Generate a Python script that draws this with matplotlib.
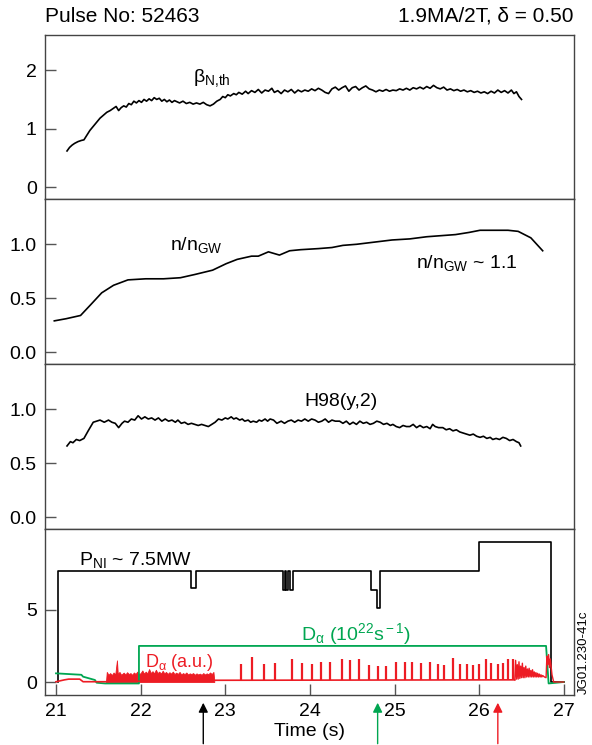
import matplotlib
matplotlib.use("Agg")
import matplotlib.pyplot as plt

plt.rcParams['font.family'] = ['Liberation Sans', 'DejaVu Sans']
plt.rcParams['mathtext.fontset'] = 'custom'
plt.rcParams['mathtext.rm'] = 'Liberation Sans'
plt.rcParams['mathtext.it'] = 'Liberation Sans:italic'

# beta_N,th (panel 1)
beta_t = [21.13, 21.16, 21.19, 21.22, 21.26, 21.30, 21.33, 21.37, 21.40, 21.44, 21.48, 21.52, 21.56, 21.60,
          21.64, 21.68, 21.71, 21.74, 21.77, 21.80, 21.83, 21.86, 21.89, 21.92, 21.95, 21.98, 22.01, 22.04,
          22.07, 22.10, 22.13, 22.16, 22.19, 22.22, 22.25, 22.28, 22.31, 22.34, 22.37, 22.40, 22.43, 22.46,
          22.50, 22.54, 22.58, 22.62, 22.66, 22.70, 22.74, 22.78, 22.82, 22.86, 22.90, 22.94, 22.97, 23.00,
          23.03, 23.06, 23.10, 23.13, 23.16, 23.20, 23.24, 23.27, 23.31, 23.35, 23.39, 23.43, 23.47, 23.51,
          23.55, 23.58, 23.62, 23.66, 23.70, 23.74, 23.78, 23.82, 23.86, 23.90, 23.94, 23.98, 24.02, 24.06,
          24.10, 24.14, 24.18, 24.22, 24.26, 24.30, 24.34, 24.38, 24.42, 24.46, 24.50, 24.54, 24.58, 24.62,
          24.66, 24.70, 24.74, 24.78, 24.82, 24.86, 24.90, 24.94, 24.98, 25.02, 25.06, 25.10, 25.14, 25.18,
          25.22, 25.26, 25.30, 25.34, 25.38, 25.42, 25.46, 25.50, 25.54, 25.58, 25.62, 25.66, 25.70, 25.74,
          25.78, 25.82, 25.86, 25.90, 25.94, 25.98, 26.02, 26.06, 26.10, 26.14, 26.18, 26.22, 26.26, 26.30,
          26.34, 26.38, 26.41, 26.44, 26.47, 26.50]
beta_v = [0.62, 0.68, 0.72, 0.75, 0.78, 0.80, 0.81, 0.90, 0.97, 1.04, 1.11, 1.18, 1.23, 1.28,
          1.31, 1.35, 1.38, 1.31, 1.36, 1.39, 1.37, 1.43, 1.41, 1.47, 1.44, 1.48, 1.45, 1.50,
          1.47, 1.51, 1.48, 1.53, 1.50, 1.52, 1.47, 1.50, 1.46, 1.49, 1.45, 1.48, 1.46, 1.44,
          1.47, 1.43, 1.45, 1.42, 1.44, 1.42, 1.45, 1.41, 1.39, 1.42, 1.47, 1.50, 1.55, 1.53,
          1.58, 1.56, 1.60, 1.58, 1.62, 1.59, 1.64, 1.60, 1.65, 1.62, 1.67, 1.61, 1.66, 1.64,
          1.69, 1.62, 1.65, 1.60, 1.66, 1.63, 1.67, 1.61, 1.66, 1.63, 1.66, 1.64, 1.68, 1.65,
          1.69, 1.66, 1.62, 1.60, 1.68, 1.71, 1.66, 1.70, 1.73, 1.64, 1.70, 1.72, 1.66, 1.70,
          1.73, 1.68, 1.66, 1.63, 1.66, 1.64, 1.67, 1.64, 1.66, 1.65, 1.68, 1.66, 1.69, 1.66,
          1.70, 1.68, 1.71, 1.68, 1.72, 1.69, 1.74, 1.70, 1.68, 1.71, 1.66, 1.68, 1.65, 1.67,
          1.64, 1.66, 1.63, 1.65, 1.62, 1.64, 1.61, 1.63, 1.60, 1.64, 1.61, 1.66, 1.62, 1.65,
          1.61, 1.66, 1.60, 1.63, 1.55, 1.50]

# n/nGW (panel 2)
ngw_t = [20.98, 21.12, 21.29, 21.41, 21.54, 21.68, 21.85, 22.06, 22.27, 22.47, 22.64, 22.85, 23.01, 23.14,
         23.31, 23.39, 23.51, 23.64, 23.76, 23.89, 24.10, 24.26, 24.39, 24.55, 24.76, 24.97, 25.18, 25.38,
         25.55, 25.72, 25.88, 26.01, 26.17, 26.34, 26.46, 26.61, 26.75]
ngw_v = [0.29, 0.31, 0.34, 0.44, 0.55, 0.62, 0.67, 0.68, 0.68, 0.69, 0.72, 0.76, 0.82, 0.86,
         0.89, 0.89, 0.93, 0.90, 0.94, 0.95, 0.96, 0.97, 0.99, 1.00, 1.02, 1.04, 1.05, 1.07,
         1.08, 1.09, 1.11, 1.13, 1.13, 1.13, 1.12, 1.06, 0.94]

# H98(y,2) (panel 3)
h98_t = [21.13, 21.17, 21.20, 21.24, 21.28, 21.33, 21.38, 21.44, 21.48, 21.52, 21.57, 21.62, 21.66, 21.70,
         21.74, 21.78, 21.81, 21.85, 21.89, 21.93, 21.97, 22.01, 22.05, 22.09, 22.13, 22.17, 22.21, 22.25,
         22.29, 22.33, 22.37, 22.41, 22.44, 22.48, 22.52, 22.56, 22.60, 22.64, 22.68, 22.72, 22.76, 22.80,
         22.84, 22.88, 22.92, 22.96, 23.00, 23.03, 23.07, 23.10, 23.13, 23.17, 23.20, 23.23, 23.27, 23.30,
         23.33, 23.37, 23.40, 23.43, 23.47, 23.50, 23.53, 23.57, 23.61, 23.66, 23.70, 23.74, 23.78, 23.82,
         23.86, 23.90, 23.94, 23.98, 24.02, 24.06, 24.10, 24.14, 24.18, 24.22, 24.26, 24.30, 24.35, 24.39,
         24.43, 24.47, 24.51, 24.55, 24.59, 24.63, 24.67, 24.71, 24.75, 24.79, 24.83, 24.87, 24.91, 24.95,
         24.98, 25.02, 25.06, 25.10, 25.14, 25.18, 25.22, 25.26, 25.30, 25.34, 25.38, 25.42, 25.45, 25.48,
         25.52, 25.57, 25.61, 25.65, 25.69, 25.73, 25.77, 25.81, 25.85, 25.89, 25.93, 25.97, 26.01, 26.05,
         26.09, 26.13, 26.16, 26.20, 26.24, 26.28, 26.32, 26.36, 26.40, 26.44, 26.47, 26.49]
h98_v = [0.66, 0.70, 0.69, 0.72, 0.71, 0.73, 0.80, 0.88, 0.89, 0.90, 0.88, 0.90, 0.88, 0.87,
         0.83, 0.87, 0.89, 0.88, 0.91, 0.90, 0.94, 0.91, 0.93, 0.91, 0.92, 0.90, 0.92, 0.89,
         0.91, 0.89, 0.90, 0.88, 0.90, 0.87, 0.88, 0.86, 0.87, 0.86, 0.85, 0.86, 0.85, 0.84,
         0.86, 0.88, 0.91, 0.90, 0.92, 0.91, 0.93, 0.91, 0.92, 0.90, 0.91, 0.89, 0.90, 0.88,
         0.89, 0.88, 0.90, 0.89, 0.91, 0.89, 0.91, 0.90, 0.87, 0.89, 0.87, 0.89, 0.90, 0.88,
         0.90, 0.89, 0.91, 0.89, 0.91, 0.90, 0.88, 0.89, 0.91, 0.88, 0.90, 0.89, 0.89, 0.87,
         0.89, 0.86, 0.88, 0.86, 0.89, 0.87, 0.88, 0.86, 0.87, 0.89, 0.88, 0.86, 0.87, 0.85,
         0.86, 0.84, 0.83, 0.85, 0.84, 0.84, 0.86, 0.83, 0.85, 0.83, 0.84, 0.82, 0.86, 0.84,
         0.83, 0.83, 0.81, 0.82, 0.80, 0.81, 0.79, 0.78, 0.77, 0.76, 0.77, 0.75, 0.74, 0.75,
         0.73, 0.74, 0.72, 0.73, 0.72, 0.74, 0.73, 0.71, 0.72, 0.70, 0.69, 0.66]

# P_NI (MW), step trace
pni_t = [21.02, 21.02, 22.60, 22.60, 22.65, 22.65, 23.68, 23.68, 23.70, 23.70, 23.72, 23.72, 23.74, 23.74,
         23.76, 23.76, 23.80, 23.80, 24.72, 24.72, 24.77, 24.77, 24.79, 24.79, 24.83, 24.83, 26.00, 26.00,
         26.85, 26.85, 27.00]
pni_v = [0.0, 7.7, 7.7, 6.5, 6.5, 7.7, 7.7, 6.4, 6.4, 7.7, 7.7, 6.4, 6.4, 7.7,
         7.7, 6.4, 6.4, 7.7, 7.7, 6.4, 6.4, 6.4, 6.4, 5.1, 5.1, 7.7, 7.7, 9.67,
         9.67, 0.0, 0.0]

# D_alpha (10^22 s^-1), green
dag_t = [21.00, 21.30, 21.32, 21.46, 21.48, 21.58, 21.98, 21.98, 26.79, 26.82, 27.00]
dag_v = [0.60, 0.50, 0.37, 0.14, -0.05, -0.10, -0.10, 2.50, 2.50, -0.10, 0.00]

# D_alpha (a.u.), red: baseline, dense L-mode region, ELMs, final dense region
dar_base_t = [21.00, 21.10, 21.15, 21.28, 21.32, 21.59, 22.87, 26.42]
dar_base_v = [0.02, 0.15, 0.20, 0.20, 0.02, 0.02, 0.12, 0.15]
dense_t = [21.59, 21.60, 21.62, 21.64, 21.66, 21.68, 21.70, 21.72, 21.73, 21.75, 21.77, 21.80, 21.82,
           21.84, 21.86, 21.88, 21.90, 21.92, 21.94, 21.96, 21.98, 22.00, 22.02, 22.04, 22.06, 22.08,
           22.10, 22.12, 22.14, 22.16, 22.18, 22.20, 22.22, 22.24, 22.26, 22.28, 22.30, 22.32, 22.34,
           22.36, 22.38, 22.40, 22.42, 22.44, 22.46, 22.48, 22.50, 22.52, 22.54, 22.56, 22.58, 22.60,
           22.62, 22.64, 22.66, 22.68, 22.70, 22.72, 22.74, 22.76, 22.78, 22.80, 22.82, 22.84, 22.86, 22.87]
dense_v = [0.00, 0.70, 0.50, 0.62, 0.48, 0.66, 0.52, 1.50, 0.55, 0.70, 0.50, 0.65, 0.52,
           0.68, 0.55, 0.62, 0.50, 0.66, 0.56, 0.72, 0.55, 0.62, 0.80, 0.58, 0.72, 0.60,
           0.90, 0.62, 0.75, 0.60, 0.85, 0.62, 0.72, 0.58, 0.78, 0.60, 0.70, 0.56, 0.68,
           0.58, 0.72, 0.55, 0.65, 0.56, 0.70, 0.52, 0.62, 0.55, 0.66, 0.52, 0.60, 0.55,
           0.62, 0.50, 0.60, 0.52, 0.58, 0.50, 0.62, 0.52, 0.60, 0.54, 0.66, 0.55, 0.70, 0.10]
elm_t = [23.18, 23.31, 23.46, 23.59, 23.79, 23.91, 24.02, 24.13, 24.24, 24.38, 24.47, 24.58, 24.70,
         24.81, 24.90, 25.02, 25.12, 25.21, 25.31, 25.42, 25.51, 25.58, 25.69, 25.77, 25.85, 25.93,
         26.00, 26.08, 26.14, 26.22, 26.28, 26.34, 26.40]
elm_h = [1.25, 1.70, 1.25, 1.30, 1.60, 1.30, 1.25, 1.40, 1.40, 1.60, 1.50, 1.60, 1.20,
         1.10, 1.10, 1.40, 1.40, 1.40, 1.30, 1.40, 1.25, 1.20, 1.65, 1.25, 1.25, 1.20,
         1.25, 1.60, 1.35, 1.25, 1.30, 1.60, 1.60]
end_t = [26.42, 26.43, 26.44, 26.45, 26.46, 26.47, 26.48, 26.49, 26.50, 26.51, 26.52, 26.53, 26.54,
         26.55, 26.56, 26.57, 26.58, 26.59, 26.60, 26.61, 26.62, 26.63, 26.64, 26.65, 26.66, 26.67,
         26.68, 26.69, 26.70, 26.71, 26.72, 26.73, 26.74, 26.75, 26.77, 26.79, 26.80, 26.81, 26.82,
         26.83, 26.84, 26.86, 26.88, 27.00]
end_v = [0.15, 1.50, 0.20, 1.20, 0.20, 1.40, 0.25, 1.10, 0.30, 1.30, 0.30, 1.00, 0.30,
         1.10, 0.35, 0.90, 0.35, 0.95, 0.35, 0.80, 0.35, 0.85, 0.35, 0.70, 0.35, 0.65,
         0.35, 0.60, 0.35, 0.55, 0.35, 0.50, 0.35, 0.45, 0.35, 0.30, 1.80, 1.20, 1.90,
         1.00, 1.60, 0.50, 0.00, 0.00]

xticks = [21, 22, 23, 24, 25, 26, 27]
arrow_t = [22.74, 24.80, 26.22]

RED = '#ed1c24'
GREEN = '#00a651'
W, H = 592, 745

fig = plt.figure(figsize=(W / 100, H / 100), dpi=100)


def make_ax(top, bottom):
    ax = fig.add_axes([45 / W, 1 - bottom / H, (574 - 45) / W, (bottom - top) / H])
    ax.set_xlim(20.87, 27.12)
    for s in ax.spines.values():
        s.set_color('#444444')
        s.set_linewidth(1.0)
    ax.tick_params(direction='in', length=8, width=1, color='#555555', labelsize=14, pad=6)
    ax.tick_params(axis='x', bottom=False, labelbottom=False)
    return ax


ax1 = make_ax(35, 199)
ax2 = make_ax(199, 364)
ax3 = make_ax(364, 529)
ax4 = make_ax(529, 695)

# panel 1
ax1.plot(beta_t, beta_v, color='black', lw=1.2)
ax1.set_ylim(-0.2, 2.6)
ax1.set_yticks([0, 1, 2])
ax1.text(22.62, 1.80, r'β$_{\rm N{,}th}$', fontsize=14)

# panel 2
ax2.plot(ngw_t, ngw_v, color='black', lw=1.2)
ax2.set_ylim(-0.11, 1.42)
ax2.set_yticks([0.0, 0.5, 1.0])
ax2.set_yticklabels(['0.0', '0.5', '1.0'])
ax2.text(22.35, 0.95, r'n/n$_{\rm GW}$', fontsize=14)
ax2.text(25.25, 0.78, r'n/n$_{\rm GW}$ ~ 1.1', fontsize=14)

# panel 3
ax3.plot(h98_t, h98_v, color='black', lw=1.2)
ax3.set_ylim(-0.11, 1.42)
ax3.set_yticks([0.0, 0.5, 1.0])
ax3.set_yticklabels(['0.0', '0.5', '1.0'])
ax3.text(23.94, 1.03, 'H98(y,2)', fontsize=14)

# panel 4
ax4.set_ylim(-0.9, 10.6)
ax4.set_yticks([0, 5])
ax4.plot(pni_t, pni_v, color='black', lw=1.2)
ax4.plot(dag_t, dag_v, color=GREEN, lw=1.3)
ax4.plot(dar_base_t, dar_base_v, color=RED, lw=1.2)
ax4.fill_between(dense_t, 0.0, dense_v, color=RED, lw=0.6, edgecolor=RED)
ax4.vlines(elm_t, 0.12, elm_h, color=RED, lw=1.6)
ax4.plot(end_t, end_v, color=RED, lw=1.0)
ax4.tick_params(axis='x', bottom=True, labelbottom=True)
ax4.set_xticks(xticks)
ax4.set_xlabel('Time (s)', fontsize=14, labelpad=2)
ax4.text(21.27, 8.1, r'P$_{\rm NI}$ ~ 7.5MW', fontsize=14)
ax4.text(23.9, 2.9, r'D$_{\rm \alpha}$ (10$^{\rm 22}$s$^{\rm -1}$)', fontsize=14, color=GREEN)
ax4.text(22.05, 1.05, r'D$_{\rm \alpha}$ (a.u.)', fontsize=13, color=RED)

colors = ['black', GREEN, RED]
for t, c in zip(arrow_t, colors):
    ax4.annotate('', xy=(t, -0.03), xytext=(t, -0.31), xycoords=ax4.get_xaxis_transform(),
                 textcoords=ax4.get_xaxis_transform(),
                 arrowprops=dict(arrowstyle='-|>', color=c, lw=1.0, mutation_scale=14))

fig.text(45 / W, 1 - 16 / H, 'Pulse No: 52463', fontsize=15, va='center', ha='left')
fig.text(574 / W, 1 - 16 / H, '1.9MA/2T, δ = 0.50', fontsize=15, va='center', ha='right')
fig.text(584 / W, 1 - 652 / H, 'JG01.230-41c', fontsize=9.5, rotation=90, va='center', ha='center')

fig.savefig('out.png', dpi=100)
